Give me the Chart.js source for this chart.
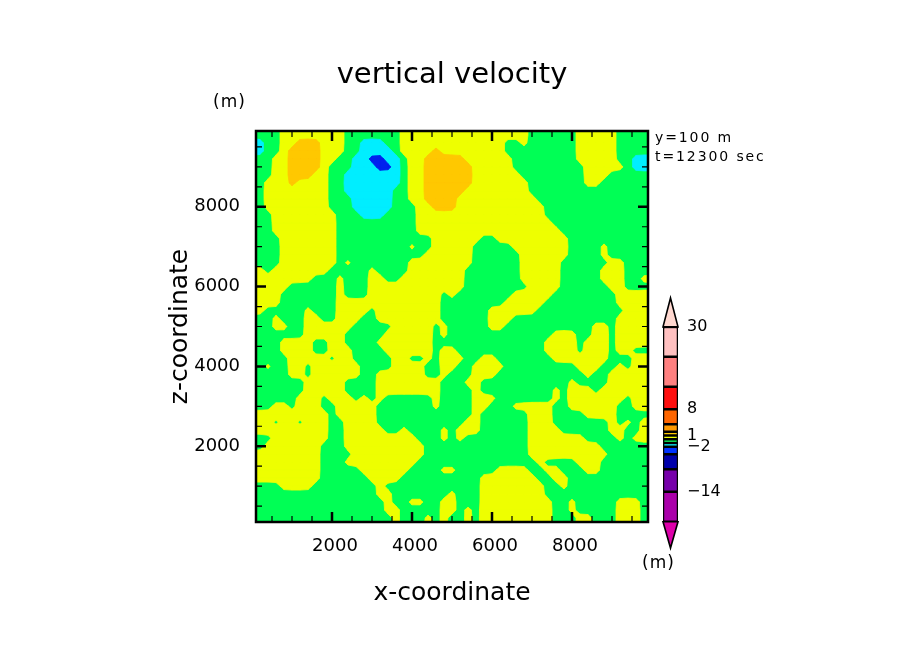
<!DOCTYPE html>
<html>
<head>
    <title>vertical velocity</title>
    <script src="https://cdn.jsdelivr.net/npm/chart.js"></script>
    <style>
        body { margin: 0; background: #fff; }
        #fieldChart { position: absolute; left: 0; top: 0; }
        #barChart { position: absolute; left: 640px; top: 290px; }
    </style>
</head>
<body>
    <canvas id="fieldChart" width="904" height="654"></canvas>
    <canvas id="barChart" width="100" height="290"></canvas>
    <script>
        // velocity class per grid node, top row first
        // b = -4..-2, c = -2..-1, . = -1..0, y = 0..1, o = 1..2
        const fieldRows = [
            "...yy yyyyy y.... ...yy yyyyy yyyyy yyyy. ..... yyyyy ....",
            "c..yy oooyy y..cc c..yy yyyyy yyyyy y..y. ..... yyyyy ....",
            "c..yo oooyy y..cc cc.yy yyoyy yyyyy y.... ..... yyyyy ....",
            "..yyo oooyy ..ccb bcc.y yoooo oyyyy yy... ..... yyyyy ..cc",
            "..yyo oooy. ..ccc bbc.y yoooo ooyyy yy... ..... .yyyy y.cc",
            "..yyo ooyy. .cccc ccc.y yoooo ooyyy yyy.. ..... .yyy. ....",
            ".yyyo yyyy. .cccc ccc.y yoooo ooyyy yyyy. ..... .yy.. ....",
            ".yyyy yyyy. .cccc cc..y yoooo oyyyy yyyy. ..... ..... ....",
            ".yyyy yyyy. ..ccc cc..y yoooo yyyyy yyyyy ..... ..... ....",
            ".yyyy yyyy. ..ccc cc... yyooo yyyyy yyyyy y.... ..... ....",
            "..yyy yyyyy ...cc c.... yyyyy yyyyy yyyyy y.... ..... ....",
            "..yyy yyyyy ..... ..... yyyyy yyyyy yyyyy yy... ..... ....",
            "..yyy yyyyy ..... ..... yyyyy yyyyy yyyyy yyy.. ..... ....",
            "...yy yyyyy ..... ..... ..yyy yyy.. yyyyy yyyy. ..... ....",
            "...yy yyyyy ..... ....y ..yyy yy... ..yyy yyyy. ...y. ....",
            "...yy yyyyy ..... ..... .yyyy yy... ...yy yyyy. ...y. ....",
            "...yy yyyyy .y... ....y yyyyy yy... ...yy yyy.. ....y y...",
            "y.yyy yyyy. ....y ....y yyyyy y.... ...yy yyy.. ...yy y...",
            "yyyyy yy... y...y y..yy yyyyy y.... ...yy yyy.. ...yy y..y",
            "yyyy. ..... y...y yyyyy yyyyy y.... ....y yyy.. ....y y...",
            "yyy.. ..... y...y yyyyy yyy.y ..... ..yyy yy... ..... yyyy",
            "yyy.. ..... yyyyy yyyyy yyy.. ..... .yyyy y.... ..... yyyy",
            "y.... .y... yyyy. yyyyy yyy.. ....y yyyyy ..... ..... .yyy",
            "..y.. .yy.. yyy.. yyyyy yyy.. ....y yy... ..... ..... yyyy",
            "..yy. .yyyy yy... ..yyy yy.y. ....y y.... ..... ..yy. yyyy",
            "..... .yyyy y.... .yyyy yy.y. ..... ..... ..yyy ..yy. yyyy",
            "...yy yy..y y.... yyyyy yy... ..... ..... .yyyy .yyy. yyyy",
            "...yy yy..y yy... .yyyy yy.yy ..... ..... .yyyy .yyy. yy..",
            "....y yyyy. yy... ..yy. .y.yy y..yy ..... ..yyy yyyy. ..yy",
            ".y..y y.yyy yyy.. ..yyy y..yy ..yyy y.... ..... yyy.. y.yy",
            "....y y.yyy yyy.. yyyyy y..y. ..yyy ..... ..... .y..y yyyy",
            "..... .yyyy y.... yyyyy yyy.. .yy.. ..... ....y ....y yyyy",
            "..... .yyyy y.... yyyyy yyy.. ..y.. ..... ..y.y yy.yy yyyy",
            "..... yyy.y yy.y. y.... ..y.. ..yyy ..... ..y.y yyyyy y.yy",
            "..yy. yyy.. yyyyy ..... ..y.. ..yy. ..yyy yy..y yyyyy ..yy",
            "yyyyy yyyy. yyyyy ..... ..... ..y.. ....y yy... .yyyy ....",
            "yy.yy .yyy. .yyyy ..... ..... .yy.. ....y yy... ....y .y.y",
            "yyyyy yyyy. .yyyy y..y. ...y. yyy.. ....y yyy.. ....y y..y",
            "..yyy yyyy. .yyyy yyyyy ...y. y.... ....y yyyyy y.... y.yy",
            ".yyyy yyy.. .yyyy yyyyy y.... ..... ....y yyyyy yyy.. ....",
            "yyyyy yyy.. ..yyy yyyyy y.... ..... ....y yyyyy yyyy. ....",
            "yyyyy yyy.. .yyyy yyyyy ..... ..... ..... y.... yyy.. ....",
            "yyyyy yyy.. ...yy yyyy. ...yy ..... yyyy. .yy.. .yy.. ....",
            "yyyyy yyy.. ....y yyy.. ..... ...yy yyyyy ..yy. ..... ....",
            "...yy yy... ..... y.... ..... ...yy yyyyy y..y. ..... ....",
            "..... ..... ..... yy... ....y ...yy yyyyy y.... ..... ....",
            "..... ..... ..... .y..y y..yy ...yy yyyyy yy..y ..... yyy.",
            "..... ..... ..... .yy.. ...yy .y.yy yyyyy yy..y ..... yyy.",
            "..... ..... ..... ..y.. .y.y. .y.yy yyyyy yy... yy... yyy."
        ].map(r => r.replace(/ /g, ''));

        const xTicks = [2000, 4000, 6000, 8000];
        const zTicks = [2000, 4000, 6000, 8000];
        const minorTicks = [500, 1000, 1500, 2500, 3000, 3500, 4500, 5000, 5500, 6500, 7000, 7500, 8500, 9000, 9500];

        // colour bar: contour levels and the colour between each pair
        const barLevels = [-22, -14, -8, -4, -2, -1, 0, 1, 2, 4, 8, 14, 22, 30];
        const barColors = ['#aa00aa', '#7700aa', '#0000aa', '#0033ff', '#00eeff', '#00ff55', '#eeff00', '#ffc800', '#ff9900', '#ff6600', '#ff1010', '#ff8080', '#ffc0c0'];
        const barLabels = [30, 8, 1, -2, -14];

        const GREEN = '#00ff55', YELLOW = '#eeff00', ORANGE = '#ffc800', CYAN = '#00eeff', BLUE = '#0022ee';
        const layers = [
            { color: YELLOW, test: c => c === 'y' || c === 'o' },
            { color: ORANGE, test: c => c === 'o' },
            { color: CYAN, test: c => c === 'c' || c === 'b' },
            { color: BLUE, test: c => c === 'b' }
        ];

        const nCols = fieldRows[0].length, nRows = fieldRows.length;
        const clamp = (v, a, b) => Math.min(b, Math.max(a, v));
        const nodeX = i => clamp(200 + 200 * i, 100, 9900);
        const nodeZ = j => clamp(9800 - 200 * j, 100, 9900);
        const nodeClass = (i, j) => fieldRows[clamp(j, 0, nRows - 1)][clamp(i, 0, nCols - 1)];

        // light smoothing of a layer mask so contours are not stair-stepped
        const KERNEL = [0.1, 0.8, 0.1];
        function smoothMask(test) {
            const grid = [];
            for (let j = -1; j <= nRows; j++) {
                const row = [];
                for (let i = -1; i <= nCols; i++) {
                    let sum = 0;
                    for (let dj = -1; dj <= 1; dj++) {
                        for (let di = -1; di <= 1; di++) {
                            if (test(nodeClass(i + di, j + dj))) sum += KERNEL[di + 1] * KERNEL[dj + 1];
                        }
                    }
                    row.push(sum);
                }
                grid.push(row);
            }
            return (i, j) => grid[j + 1][i + 1];
        }

        // contour fill: one marching squares pass per colour layer
        const contourPlugin = {
            id: 'contour',
            beforeDatasetsDraw(chart) {
                const { ctx, chartArea: a, scales: { x, y } } = chart;
                ctx.save();
                ctx.beginPath();
                ctx.rect(a.left, a.top, a.right - a.left, a.bottom - a.top);
                ctx.clip();
                ctx.fillStyle = GREEN;
                ctx.fillRect(a.left, a.top, a.right - a.left, a.bottom - a.top);
                layers.forEach(layer => {
                    const mask = smoothMask(layer.test);
                    ctx.fillStyle = layer.color;
                    ctx.strokeStyle = layer.color;
                    ctx.lineWidth = 0.8;
                    ctx.beginPath();
                    for (let j = -1; j < nRows; j++) {
                        for (let i = -1; i < nCols; i++) {
                            const corners = [[i, j], [i + 1, j], [i + 1, j + 1], [i, j + 1]].map(([ci, cj]) => ({
                                px: x.getPixelForValue(nodeX(ci)),
                                py: y.getPixelForValue(nodeZ(cj)),
                                v: mask(ci, cj)
                            }));
                            const path = [];
                            corners.forEach((p, k) => {
                                const q = corners[(k + 1) % 4];
                                const pOn = p.v >= 0.5, qOn = q.v >= 0.5;
                                if (pOn) path.push([p.px, p.py]);
                                if (pOn !== qOn) {
                                    const t = (0.5 - p.v) / (q.v - p.v);
                                    path.push([p.px + (q.px - p.px) * t, p.py + (q.py - p.py) * t]);
                                }
                            });
                            if (!path.length) continue;
                            ctx.moveTo(path[0][0], path[0][1]);
                            path.slice(1).forEach(pt => ctx.lineTo(pt[0], pt[1]));
                            ctx.closePath();
                        }
                    }
                    ctx.fill();
                    ctx.stroke();
                });
                ctx.restore();
            },
            afterDraw(chart) {
                const { ctx, chartArea: a, scales: { x, y } } = chart;
                ctx.save();
                ctx.strokeStyle = '#000';
                const tick = (len, width, xs, zs) => {
                    ctx.lineWidth = width;
                    ctx.beginPath();
                    xs.forEach(v => {
                        const p = x.getPixelForValue(v);
                        ctx.moveTo(p, a.top); ctx.lineTo(p, a.top + len);
                        ctx.moveTo(p, a.bottom); ctx.lineTo(p, a.bottom - len);
                    });
                    zs.forEach(v => {
                        const p = y.getPixelForValue(v);
                        ctx.moveTo(a.left, p); ctx.lineTo(a.left + len, p);
                        ctx.moveTo(a.right, p); ctx.lineTo(a.right - len, p);
                    });
                    ctx.stroke();
                };
                tick(6, 1.2, minorTicks, minorTicks);
                tick(10, 2.5, xTicks, zTicks);
                ctx.lineWidth = 2.5;
                ctx.strokeRect(a.left, a.top, a.right - a.left, a.bottom - a.top);

                // small notes around the frame
                ctx.fillStyle = '#000';
                ctx.textBaseline = 'middle';
                ctx.font = '17px "DejaVu Sans"';
                ctx.letterSpacing = '1px';
                ctx.fillText('(m)', a.left - 43, 103);
                ctx.fillText('(m)', 642, 564);
                ctx.font = '14px "DejaVu Sans"';
                ctx.letterSpacing = '1.9px';
                ctx.fillText('y=100 m', a.right + 7, 138);
                ctx.fillText('t=12300 sec', a.right + 7, 157);
                ctx.restore();
            }
        };

        new Chart(document.getElementById('fieldChart'), {
            type: 'scatter',
            data: { datasets: [] },
            plugins: [contourPlugin],
            options: {
                responsive: false,
                animation: false,
                layout: { padding: { left: 0, right: 0, bottom: 46, top: 0 } },
                plugins: {
                    legend: { display: false },
                    tooltip: { enabled: false },
                    title: {
                        display: true,
                        text: 'vertical velocity',
                        color: '#000',
                        font: { family: 'DejaVu Sans', size: 29, weight: 'normal' },
                        padding: { top: 58, bottom: 38.2 }
                    }
                },
                scales: {
                    x: {
                        type: 'linear', min: 100, max: 9900,
                        grid: { display: false }, border: { display: false },
                        afterBuildTicks: s => { s.ticks = xTicks.map(v => ({ value: v })); },
                        afterFit: s => { s.height = 86; },
                        ticks: { color: '#000', padding: 6, labelOffset: 3, maxRotation: 0, callback: v => String(v), font: { family: 'DejaVu Sans', size: 18 } },
                        title: { display: true, text: 'x-coordinate', color: '#000', padding: 0, font: { family: 'DejaVu Sans', size: 25 } }
                    },
                    y: {
                        type: 'linear', min: 100, max: 9900,
                        grid: { display: false }, border: { display: false },
                        afterBuildTicks: s => { s.ticks = zTicks.map(v => ({ value: v })); },
                        afterFit: s => { s.width = 256; },
                        ticks: { color: '#000', padding: 8, callback: v => String(v), font: { family: 'DejaVu Sans', size: 18 } },
                        title: { display: true, text: 'z-coordinate', color: '#000', padding: { top: 165, bottom: 0 }, font: { family: 'DejaVu Sans', size: 25 } }
                    },
                    // empty right axis, only there to keep the frame off the right edge
                    yRight: {
                        type: 'linear', position: 'right', min: 100, max: 9900,
                        grid: { display: false }, border: { display: false },
                        ticks: { display: false },
                        afterFit: s => { s.width = 256; }
                    }
                }
            }
        });

        // pointed ends of the colour bar
        const barEndsPlugin = {
            id: 'barEnds',
            afterDatasetsDraw(chart) {
                const { ctx, chartArea: a, scales: { y } } = chart;
                const mid = (a.left + a.right) / 2;
                const end = (from, tip, color) => {
                    ctx.beginPath();
                    ctx.moveTo(a.left, y.getPixelForValue(from));
                    ctx.lineTo(mid, y.getPixelForValue(tip));
                    ctx.lineTo(a.right, y.getPixelForValue(from));
                    ctx.closePath();
                    ctx.fillStyle = color;
                    ctx.fill();
                    ctx.lineWidth = 1.6;
                    ctx.strokeStyle = '#000';
                    ctx.stroke();
                };
                end(barLevels[barLevels.length - 1], y.max, '#ffd8d0');
                end(barLevels[0], y.min, '#dd00aa');
            }
        };

        new Chart(document.getElementById('barChart'), {
            type: 'bar',
            data: {
                labels: [''],
                datasets: barColors.map((color, i) => ({
                    data: [[barLevels[i], barLevels[i + 1]]],
                    backgroundColor: color,
                    borderColor: '#000',
                    borderWidth: 1.6,
                    borderSkipped: false,
                    barPercentage: 1,
                    categoryPercentage: 1
                }))
            },
            plugins: [barEndsPlugin],
            options: {
                responsive: false,
                animation: false,
                layout: { padding: { left: 23, right: 0, top: 8, bottom: 32 } },
                plugins: { legend: { display: false }, tooltip: { enabled: false } },
                scales: {
                    x: { stacked: true, display: false },
                    y: {
                        position: 'right', min: -29, max: 37.7,
                        grid: { display: false, drawTicks: false }, border: { display: false },
                        afterBuildTicks: s => { s.ticks = barLabels.map(v => ({ value: v })); },
                        afterFit: s => { s.width = 62; s.paddingTop = 0; s.paddingBottom = 0; },
                        ticks: {
                            color: '#000', padding: 9, autoSkip: false,
                            callback: v => String(v).replace('-', '\u2212'),
                            font: { family: 'DejaVu Sans', size: 16 }
                        }
                    }
                }
            }
        });
    </script>
</body>
</html>
